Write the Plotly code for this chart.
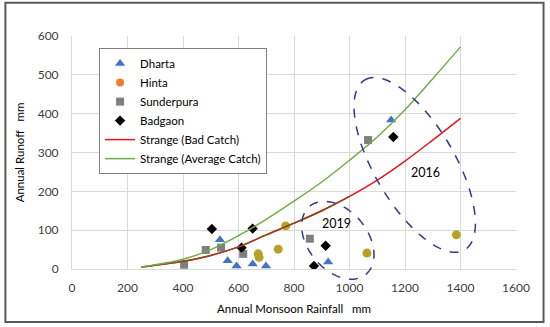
import numpy as np
import plotly.graph_objects as go

# ---- data ----
dharta_x = [533, 561, 593, 651, 699, 923, 1150]
dharta_y = [75, 21, 8, 13, 8, 18, 384]

hinta_x = [671, 674, 743, 770, 1063, 1385]
hinta_y = [39, 30, 51, 111, 41, 88]

sunder_x = [404, 482, 537, 617, 857, 1067]
sunder_y = [11, 49, 55, 39, 78, 332]

badgaon_x = [504, 611, 651, 872, 914, 1158]
badgaon_y = [103, 55, 104, 8, 60, 340]

strange_x = [250, 400, 500, 600, 700, 800, 900, 1000, 1100, 1200, 1300, 1400]
strange_bad = [5, 20, 35, 57, 88, 118, 150, 187, 229, 278, 332, 388]
strange_avg = [5, 25, 50, 86, 128, 175, 224, 280, 340, 410, 490, 572]

x_ticks = [0, 200, 400, 600, 800, 1000, 1200, 1400, 1600]
y_ticks = [0, 100, 200, 300, 400, 500, 600]

X_RANGE = [0, 1600]
Y_RANGE = [0, 600]

FONT = "Lato, 'Liberation Sans', sans-serif"
TXT = "#404040"

fig = go.Figure()

fig.add_trace(go.Scatter(x=dharta_x, y=dharta_y, mode="markers", name="Dharta",
                         marker=dict(symbol="triangle-up", size=9, color="#4472c4")))
# legend entry for Hinta (orange in legend)
fig.add_trace(go.Scatter(x=[None], y=[None], mode="markers", name="Hinta",
                         marker=dict(symbol="circle", size=8, color="#ed7d31")))
fig.add_trace(go.Scatter(x=hinta_x, y=hinta_y, mode="markers", name="Hinta", showlegend=False,
                         marker=dict(symbol="circle", size=9, color="#b5a227")))
fig.add_trace(go.Scatter(x=sunder_x, y=sunder_y, mode="markers", name="Sunderpura",
                         marker=dict(symbol="square", size=8, color="#7f7f7f")))
fig.add_trace(go.Scatter(x=badgaon_x, y=badgaon_y, mode="markers", name="Badgaon",
                         marker=dict(symbol="diamond", size=8, color="#000000")))
fig.add_trace(go.Scatter(x=strange_x, y=strange_bad, mode="lines", name="Strange (Bad Catch)",
                         line=dict(color="#e8141c", width=1.5, shape="spline")))
fig.add_trace(go.Scatter(x=strange_x[:8], y=strange_bad[:8], mode="lines", showlegend=False,
                         line=dict(color="#8b4a1c", width=1.5, shape="spline"), hoverinfo="skip"))
fig.add_trace(go.Scatter(x=strange_x, y=strange_avg, mode="lines", name="Strange (Average Catch)",
                         line=dict(color="#70ad47", width=1.5, shape="spline")))

# ---- dashed ellipses (screen-pixel geometry -> paper coords, so they are not clipped) ----
PW, PH = 444.8, 233.4   # plot area size in px

def ellipse_path(cx, cy, a, b, lean_deg):
    phi = np.radians(lean_deg)
    t = np.linspace(0, 2 * np.pi, 120)
    ox = a * np.cos(t) * (-np.sin(phi)) + b * np.sin(t) * np.cos(phi)
    oy = a * np.cos(t) * (-np.cos(phi)) + b * np.sin(t) * (-np.sin(phi))
    pcx = (cx - X_RANGE[0]) / (X_RANGE[1] - X_RANGE[0])
    pcy = (cy - Y_RANGE[0]) / (Y_RANGE[1] - Y_RANGE[0])
    xs = pcx + ox / PW
    ys = pcy - oy / PH
    return "M " + " L ".join(f"{x:.4f},{y:.4f}" for x, y in zip(xs, ys)) + " Z"

shapes = [
    dict(type="path", path=ellipse_path(1235, 268, 98.7, 40.2, 30.4), xref="paper", yref="paper",
         line=dict(color="#2f3b8c", width=1.5, dash="dash")),
    dict(type="path", path=ellipse_path(958, 74, 44.2, 29.7, 39.4), xref="paper", yref="paper",
         line=dict(color="#2f3b8c", width=1.5, dash="dash")),
    # outer chart border
    dict(type="rect", xref="paper", yref="paper", x0=-0.150, x1=1.062, y0=-0.228, y1=1.143,
         line=dict(color="#595959", width=2)),
]

annotations = [
    dict(x=1274, y=248, text="2016", showarrow=False, font=dict(size=12.5, color="#000", family=FONT)),
    dict(x=953, y=116, text="2019", showarrow=False, font=dict(size=12.5, color="#000", family=FONT)),
]

fig.update_layout(
    width=550, height=327,
    margin=dict(l=72, r=33.5, t=36, b=57.7, autoexpand=False),
    paper_bgcolor="white", plot_bgcolor="white",
    font=dict(family=FONT, size=12, color=TXT),
    shapes=shapes, annotations=annotations,
    showlegend=True,
    legend=dict(x=0.061, y=0.948, xanchor="left", yanchor="top",
                bgcolor="white", bordercolor="#808080", borderwidth=1,
                font=dict(size=11.5, color="#000", family=FONT), tracegroupgap=0),
    xaxis=dict(range=X_RANGE, tickvals=x_ticks, showgrid=True, gridcolor="#d9d9d9",
               zeroline=False, showline=True, linecolor="#d9d9d9", automargin=False,
               tickfont=dict(size=12, color=TXT), ticks="outside", ticklen=8, tickcolor="rgba(0,0,0,0)",
               title=dict(text="Annual Monsoon Rainfall   mm", font=dict(size=11.5, color="#000"), standoff=10)),
    yaxis=dict(range=Y_RANGE, tickvals=y_ticks, showgrid=True, gridcolor="#d9d9d9",
               zeroline=False, showline=True, linecolor="#d9d9d9", automargin=False,
               tickfont=dict(size=12, color=TXT), ticks="outside", ticklen=10, tickcolor="rgba(0,0,0,0)",
               title=dict(text="Annual Runoff   mm", font=dict(size=11.5, color="#000"), standoff=10)),
)

fig.write_html("out.html", config={"displayModeBar": False},
               post_script="document.body.style.margin='0';document.body.style.padding='0';")
